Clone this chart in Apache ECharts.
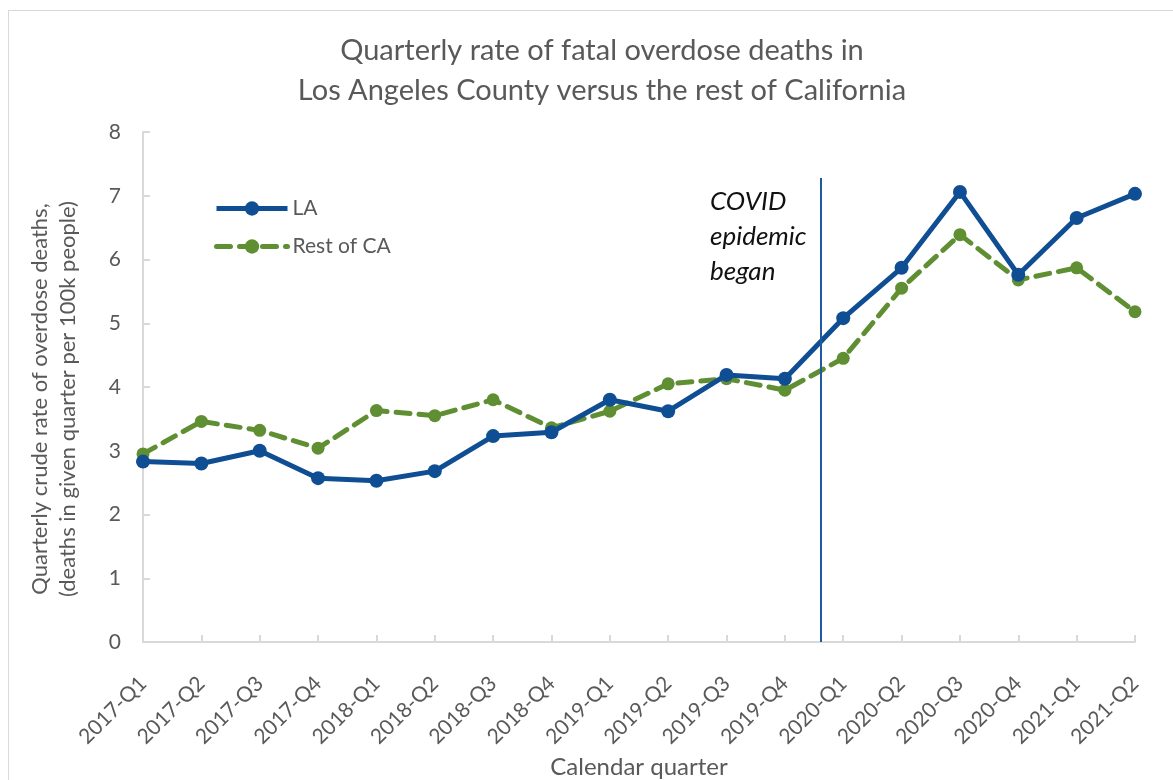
<!DOCTYPE html>
<html>
<head>
<meta charset="utf-8">
<script src="https://cdn.jsdelivr.net/npm/echarts@6/dist/echarts.min.js"></script>
<style>
  html, body { margin: 0; padding: 0; background: #fff; }
  #wrap { position: relative; width: 1173px; height: 780px; overflow: hidden; }
  #frame { position: absolute; left: 8px; top: 10px; width: 1200px; height: 800px;
           border: 1px solid #d9d9d9; box-sizing: border-box; pointer-events: none; }
  #chart { position: absolute; left: 0; top: 0; width: 1173px; height: 780px; }
</style>
</head>
<body>
<div id="wrap">
  <div id="frame"></div>
  <div id="chart"></div>
</div>
<script>
// Calendar quarters on the x axis
const quarters = [
  '2017-Q1', '2017-Q2', '2017-Q3', '2017-Q4',
  '2018-Q1', '2018-Q2', '2018-Q3', '2018-Q4',
  '2019-Q1', '2019-Q2', '2019-Q3', '2019-Q4',
  '2020-Q1', '2020-Q2', '2020-Q3', '2020-Q4',
  '2021-Q1', '2021-Q2'
];

// Crude overdose death rate per 100k people, per quarter
const laRates = [2.83, 2.80, 3.00, 2.57, 2.53, 2.68, 3.23, 3.29, 3.80, 3.62,
                 4.19, 4.13, 5.08, 5.87, 7.06, 5.76, 6.65, 7.03];
const restOfCaRates = [2.95, 3.46, 3.32, 3.04, 3.63, 3.55, 3.80, 3.36, 3.62, 4.05,
                       4.13, 3.95, 4.45, 5.55, 6.39, 5.68, 5.87, 5.18];

// Position of the COVID marker, in quarter units from 2017-Q1
const covidStart = 11.62;

const yTicks = { min: 0, max: 8, interval: 1 };

const FONT = 'Lato, "Open Sans", sans-serif';
const GREY = '#595959';
const AXIS = '#d9d9d9';
const BLUE = '#0f4e92';
const GREEN = '#5f8f32';

const chart = echarts.init(document.getElementById('chart'), null, { renderer: 'canvas' });

chart.setOption({
  backgroundColor: 'transparent',
  animation: false,
  textStyle: { fontFamily: FONT },
  title: {
    text: 'Quarterly rate of fatal overdose deaths in\nLos Angeles County versus the rest of California',
    left: 597,
    top: 26,
    textAlign: 'center',
    textStyle: { fontFamily: FONT, fontSize: 29, fontWeight: 'normal', color: GREY, lineHeight: 40 }
  },
  legend: {
    orient: 'vertical',
    left: 214,
    top: 198,
    padding: 0,
    itemWidth: 71,
    itemHeight: 18,
    itemGap: 17,
    lineStyle: { width: 5 },
    textStyle: { fontFamily: FONT, fontSize: 21, color: GREY },
    data: ['LA', 'Rest of CA']
  },
  grid: { left: 143, right: 38, top: 132, bottom: 138, containLabel: false, outerBoundsMode: 'none' },
  xAxis: [
    {
      type: 'category',
      data: quarters,
      boundaryGap: false,
      name: 'Calendar quarter',
      nameLocation: 'middle',
      nameGap: 110,
      nameTextStyle: { fontFamily: FONT, fontSize: 24, color: GREY },
      axisLine: { lineStyle: { color: AXIS, width: 2 } },
      axisTick: { inside: true, length: 7, lineStyle: { color: AXIS, width: 2 }, alignWithLabel: true },
      axisLabel: { rotate: 45, margin: 38, fontFamily: FONT, fontSize: 21, color: GREY, interval: 0 },
      splitLine: { show: false }
    },
    {
      // linear companion axis used to place the COVID marker between quarters
      type: 'value',
      min: 0,
      max: quarters.length - 1,
      show: false,
      position: 'bottom'
    }
  ],
  yAxis: {
    type: 'value',
    min: yTicks.min,
    max: yTicks.max,
    interval: yTicks.interval,
    name: 'Quarterly crude rate of overdose deaths,\n(deaths in given quarter per 100k people)',
    nameLocation: 'middle',
    nameGap: 61,
    nameTextStyle: { fontFamily: FONT, fontSize: 22, color: GREY, lineHeight: 28, padding: [0, 24, 0, 0] },
    axisLine: { show: true, lineStyle: { color: AXIS, width: 2 } },
    axisTick: { show: true, inside: true, length: 7, lineStyle: { color: AXIS, width: 2 } },
    axisLabel: { margin: 22, fontFamily: FONT, fontSize: 21, color: GREY },
    splitLine: { show: false }
  },
  graphic: [
    {
      type: 'text',
      left: 710,
      top: 184,
      style: {
        text: 'COVID\nepidemic\nbegan',
        font: 'italic 26px ' + FONT,
        fill: '#111',
        lineHeight: 35
      }
    }
  ],
  series: [
    {
      name: 'COVID marker',
      type: 'line',
      xAxisIndex: 1,
      data: [],
      silent: true,
      markLine: {
        silent: true,
        symbol: ['none', 'none'],
        label: { show: false },
        lineStyle: { color: '#1f5aa0', width: 2, type: 'solid' },
        data: [[{ coord: [covidStart, 0] }, { coord: [covidStart, 7.28] }]]
      }
    },
    {
      name: 'Rest of CA',
      type: 'line',
      data: restOfCaRates,
      color: GREEN,
      symbol: 'circle',
      symbolSize: 13,
      lineStyle: { color: GREEN, width: 5, type: [14, 9], cap: 'round' },
      itemStyle: { color: GREEN },
      z: 3
    },
    {
      name: 'LA',
      type: 'line',
      data: laRates,
      color: BLUE,
      symbol: 'circle',
      symbolSize: 14,
      lineStyle: { color: BLUE, width: 5 },
      itemStyle: { color: BLUE },
      z: 4
    }
  ]
});
</script>
</body>
</html>
